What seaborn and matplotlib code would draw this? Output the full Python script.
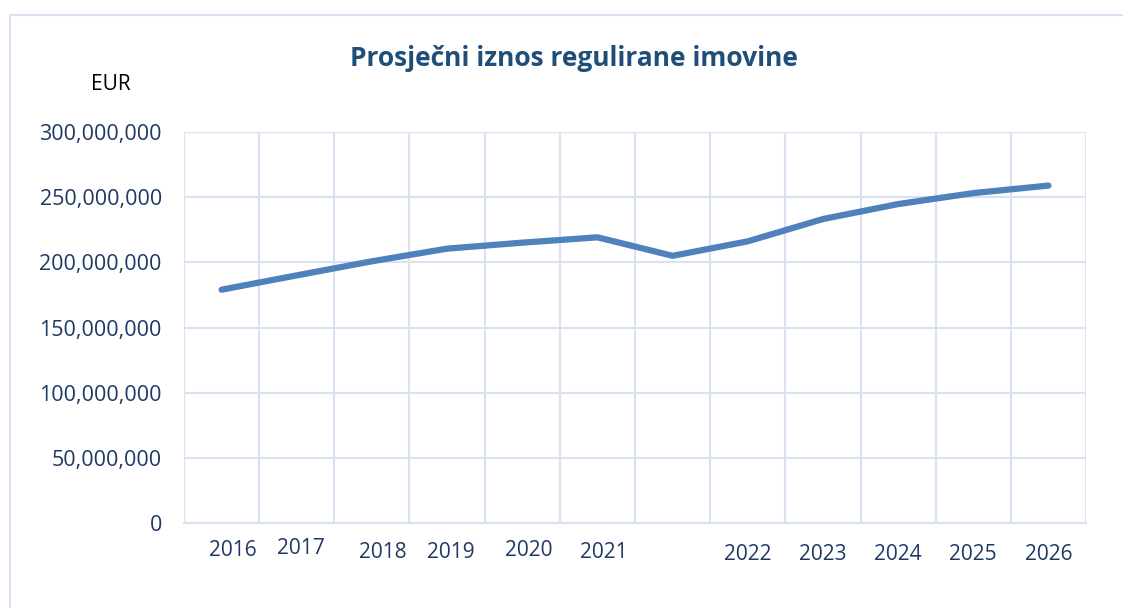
import numpy as np
import pandas as pd
import matplotlib
matplotlib.use("Agg")
import matplotlib.pyplot as plt
import matplotlib.transforms as mtransforms
from matplotlib.patches import Rectangle
from matplotlib.ticker import FuncFormatter
import seaborn as sns

# ---- data ----
year_labels = ["2016", "2017", "2018", "2019", "2020", "2021", "",
               "2022", "2023", "2024", "2025", "2026"]
values = [179.0e6, 190.0e6, 200.8e6, 210.5e6, 215.1e6, 219.2e6, 205.0e6,
          216.1e6, 233.2e6, 244.7e6, 253.1e6, 258.9e6]
y_ticks = [0, 50e6, 100e6, 150e6, 200e6, 250e6, 300e6]
title = "Prosječni iznos regulirane imovine"
unit_label = "EUR"

# per-label nudges (pixels) seen in the original layout
label_dx = [11, 4, 11, 3.5, 7, 6.5, 0, 0, 0, 0, 0, 0]
label_dy = [-4, -3, -6, -7, -5, -6, 0, -9, -9, -9, -9, -9]

sns.set_theme(style="white")
plt.rcParams["font.family"] = ["Open Sans", "DejaVu Sans"]

W, H = 1123, 608
fig = plt.figure(figsize=(W / 100, H / 100), dpi=100)
ax = fig.add_axes([184 / W, 1 - 523 / H, (1086 - 184) / W, (523 - 132) / H])

df = pd.DataFrame({"pos": np.arange(len(values)), "value": values})
grid_c = "#D9E2F3"
text_c = "#1F3864"
line_c = "#4F81BD"

sns.lineplot(data=df, x="pos", y="value", ax=ax, color=line_c,
             linewidth=4.5, solid_capstyle="round", solid_joinstyle="round", zorder=3)

ax.set_xlim(-0.5, len(values) - 0.5)
ax.set_ylim(0, 300e6)
ax.set_yticks(y_ticks)
ax.yaxis.set_major_formatter(FuncFormatter(lambda v, p: f"{int(v):,}"))
ax.set_xticks(np.arange(len(values)))
ax.set_xticklabels(year_labels)
ax.set_xticks(np.arange(len(values) + 1) - 0.5, minor=True)

ax.grid(False)
ax.grid(True, which="major", axis="y", color=grid_c, linewidth=1.5)
ax.grid(True, which="minor", axis="x", color=grid_c, linewidth=1.5)
for s in ["top", "right", "left"]:
    ax.spines[s].set_visible(False)
ax.spines["bottom"].set_color(grid_c)
ax.spines["bottom"].set_linewidth(1.5)

ax.tick_params(axis="x", which="major", length=0, pad=9, labelsize=15, labelcolor=text_c)
ax.tick_params(axis="x", which="minor", length=7, width=1.5, color=grid_c, direction="out")
ax.tick_params(axis="y", length=0, pad=16, labelsize=15.5, labelcolor=text_c)
ax.set_xlabel("")
ax.set_ylabel("")

for lbl, dx, dy in zip(ax.get_xticklabels(), label_dx, label_dy):
    off = mtransforms.ScaledTranslation(dx / 100, dy / 100, fig.dpi_scale_trans)
    lbl.set_transform(lbl.get_transform() + off)

fig.text(574 / W, 1 - 58 / H, title, ha="center", va="center",
         fontsize=19, fontweight="bold", color="#1F4E79")
fig.text(111 / W, 1 - 84 / H, unit_label, ha="center", va="center",
         fontsize=15, color="black")

fig.patches.append(Rectangle((10 / W, -0.2), 1.5, 1 - 15 / H + 0.2,
                             transform=fig.transFigure, fill=False,
                             edgecolor=grid_c, linewidth=1.5))

fig.savefig("out.png", dpi=100, facecolor="white")
